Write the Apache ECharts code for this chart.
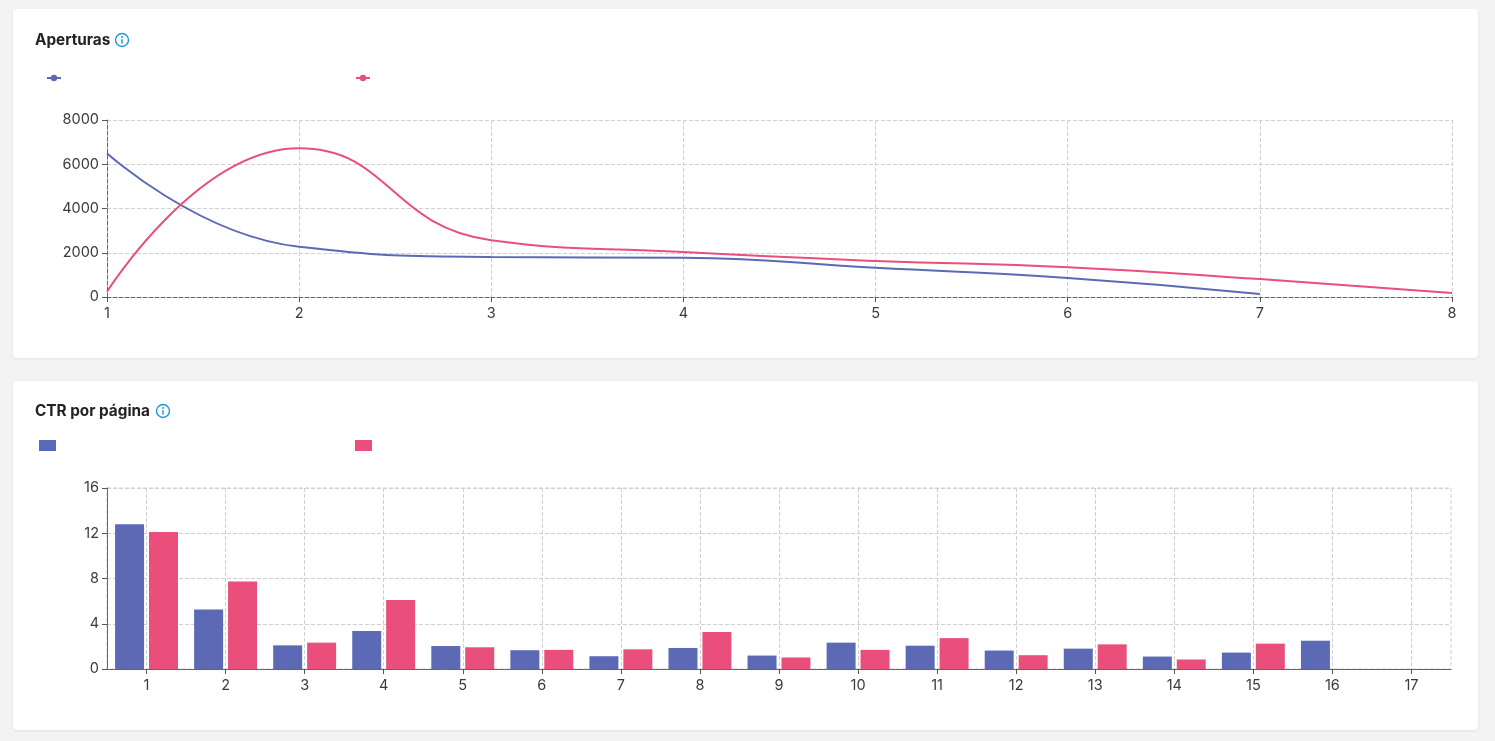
<!DOCTYPE html>
<html>
<head>
<meta charset="utf-8">
<script src="https://cdn.jsdelivr.net/npm/echarts@6/dist/echarts.min.js"></script>
<style>
  html, body { margin: 0; padding: 0; background: #f3f3f3; width: 1495px; height: 741px; overflow: hidden; }
  .card { position: absolute; left: 13px; width: 1465px; height: 349px; background: #fff; border-radius: 4px; box-shadow: 0 1px 3px rgba(0,0,0,0.08); }
  .chart { width: 100%; height: 100%; }
</style>
</head>
<body>
<div class="card" style="top:9px"><div id="c1" class="chart"></div></div>
<div class="card" style="top:381px"><div id="c2" class="chart"></div></div>
<script>
// ---- data ----
const lineCategories = ['1', '2', '3', '4', '5', '6', '7', '8'];
const aperturasA = [6500, 2270, 1810, 1770, 1320, 860, 140, null];
const aperturasB = [240, 6720, 2570, 2030, 1630, 1350, 810, 180];
const lineYTicks = [0, 2000, 4000, 6000, 8000];

const barCategories = ['1','2','3','4','5','6','7','8','9','10','11','12','13','14','15','16','17'];
const ctrA = [12.8, 5.26, 2.09, 3.37, 2.03, 1.66, 1.13, 1.86, 1.19, 2.33, 2.06, 1.63, 1.8, 1.1, 1.45, 2.5, null];
const ctrB = [12.1, 7.73, 2.33, 6.1, 1.92, 1.69, 1.74, 3.26, 1.02, 1.69, 2.73, 1.22, 2.18, 0.84, 2.24, null, null];
const barYTicks = [0, 4, 8, 12, 16];

const seriesNames = ['Periodo actual', 'Periodo anterior'];
const BLUE = '#5c6ab6';
const PINK = '#ea4f7c';
const FONT = 'Inter, "Noto Sans", sans-serif';
const ICON = '#1a9bd7';

function titleBlock(text, iconX, cy) {
  return {
    title: { text: text, left: 22, top: cy - 7, padding: 0,
      textStyle: { fontFamily: FONT, fontSize: 15.3, fontWeight: 700, color: '#222' } },
    graphic: [
      { type: 'circle', shape: { cx: iconX, cy: cy, r: 6.5 }, style: { fill: '#fff', stroke: ICON, lineWidth: 1.4 } },
      { type: 'circle', shape: { cx: iconX, cy: cy - 3, r: 1 }, style: { fill: ICON } },
      { type: 'line', shape: { x1: iconX, y1: cy - 0.8, x2: iconX, y2: cy + 3.6 }, style: { stroke: ICON, lineWidth: 1.5 } }
    ]
  };
}

const axisLabelStyle = { fontFamily: FONT, fontSize: 14.5, color: '#3a3a3a' };

// ---- chart 1 ----
const c1 = echarts.init(document.getElementById('c1'));
const t1 = titleBlock('Aperturas', 109, 31);
c1.setOption({
  animation: false,
  title: t1.title,
  graphic: t1.graphic,
  legend: [
    { data: [seriesNames[0]], left: 33, top: 65, padding: 0, itemWidth: 14, itemHeight: 8, formatter: () => '', selectedMode: false },
    { data: [seriesNames[1]], left: 342, top: 65, padding: 0, itemWidth: 14, itemHeight: 8, formatter: () => '', selectedMode: false }
  ],
  grid: { left: 94, right: 26, top: 111, bottom: 61 },
  xAxis: {
    type: 'category', data: lineCategories, boundaryGap: false,
    axisLine: { lineStyle: { color: '#666', type: 'dashed' } },
    axisTick: { show: true, lineStyle: { color: '#555' } },
    axisLabel: Object.assign({ margin: 9 }, axisLabelStyle),
    splitLine: { show: true, lineStyle: { type: 'dashed', color: '#d0d0d0' } }
  },
  yAxis: {
    type: 'value', min: lineYTicks[0], max: lineYTicks[lineYTicks.length - 1], interval: 2000,
    axisLine: { show: true, lineStyle: { color: '#666', type: 'dashed' } },
    axisTick: { show: true, length: 5, lineStyle: { color: '#555' } },
    axisLabel: Object.assign({ margin: 8, formatter: v => String(v) }, axisLabelStyle),
    splitLine: { lineStyle: { type: 'dashed', color: '#d0d0d0' } }
  },
  series: [
    { name: seriesNames[0], type: 'line', data: aperturasA, smooth: true, showSymbol: false, symbol: 'circle',
      itemStyle: { color: BLUE }, lineStyle: { width: 2, color: BLUE } },
    { name: seriesNames[1], type: 'line', data: aperturasB, smooth: true, showSymbol: false, symbol: 'circle',
      itemStyle: { color: PINK }, lineStyle: { width: 2, color: PINK } }
  ]
});

// ---- chart 2 ----
const c2 = echarts.init(document.getElementById('c2'));
const t2 = titleBlock('CTR por página', 150, 30);
c2.setOption({
  animation: false,
  title: t2.title,
  graphic: t2.graphic,
  legend: [
    { data: [seriesNames[0]], left: 26, top: 59, padding: 0, icon: 'rect', itemWidth: 17, itemHeight: 11, formatter: () => '', selectedMode: false },
    { data: [seriesNames[1]], left: 342, top: 59, padding: 0, icon: 'rect', itemWidth: 17, itemHeight: 11, formatter: () => '', selectedMode: false }
  ],
  grid: { left: 94, right: 27, top: 107, bottom: 61, show: true, borderColor: '#d0d0d0', borderWidth: 1, borderType: 'dashed' },
  xAxis: {
    type: 'category', data: barCategories,
    axisLine: { lineStyle: { color: '#666' } },
    axisTick: { show: true, alignWithLabel: true, lineStyle: { color: '#555' } },
    axisLabel: Object.assign({ margin: 9 }, axisLabelStyle),
    splitLine: { show: true, alignWithLabel: true, lineStyle: { type: 'dashed', color: '#d0d0d0' } }
  },
  yAxis: {
    type: 'value', min: barYTicks[0], max: barYTicks[barYTicks.length - 1], interval: 4,
    axisLine: { show: true, lineStyle: { color: '#666' } },
    axisTick: { show: true, length: 5, lineStyle: { color: '#555' } },
    axisLabel: Object.assign({ margin: 8 }, axisLabelStyle),
    splitLine: { lineStyle: { type: 'dashed', color: '#d0d0d0' } }
  },
  series: [
    { name: seriesNames[0], type: 'bar', data: ctrA, barWidth: 29, barGap: '17%', itemStyle: { color: BLUE } },
    { name: seriesNames[1], type: 'bar', data: ctrB, barWidth: 29, barGap: '17%', itemStyle: { color: PINK } }
  ]
});
</script>
</body>
</html>
